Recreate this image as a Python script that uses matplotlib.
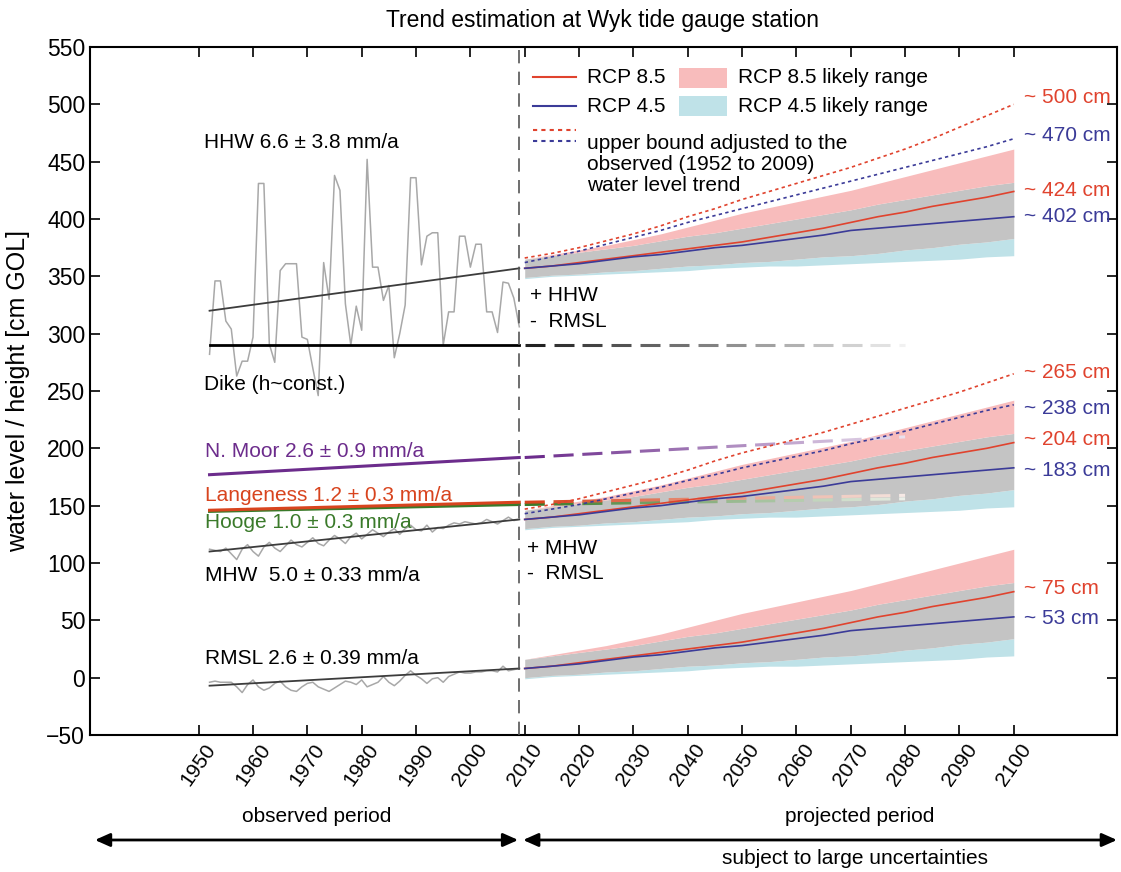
import matplotlib
matplotlib.use('Agg')
import matplotlib.pyplot as plt
import numpy as np
from matplotlib.lines import Line2D
from matplotlib.patches import Rectangle
from matplotlib.collections import LineCollection
from matplotlib.colors import to_rgb

plt.rcParams['font.family'] = ['Liberation Sans', 'DejaVu Sans']

# --- observed annual values 1952-2009 [cm GOL] ---
obs_years = np.arange(1952, 2010)
hhw = [282, 346, 346, 311, 304, 263, 276, 276, 297, 431,
       431, 291, 275, 355, 361, 361, 361, 297, 295, 270,
       246, 362, 330, 438, 425, 326, 290, 324, 303, 452,
       358, 358, 329, 342, 279, 300, 325, 436, 436, 360,
       385, 388, 388, 290, 319, 319, 385, 385, 358, 378,
       378, 319, 319, 301, 345, 344, 331, 306]
mhw = [112, 111, 110, 113, 108, 103, 112, 116, 110, 106,
       114, 118, 113, 110, 115, 120, 116, 114, 118, 122,
       117, 115, 120, 124, 121, 117, 123, 126, 121, 125,
       129, 126, 123, 127, 130, 125, 130, 133, 129, 128,
       133, 127, 131, 130, 133, 135, 134, 136, 135, 134,
       135, 138, 136, 134, 137, 140, 137, 138]
rmsl = [-4, -3, -4, -4, -4, -8, -13, -6, -2, -8,
        -11, -9, -5, -3, -8, -11, -12, -8, -5, -4,
        -8, -10, -12, -9, -6, -3, -4, -6, -2, -8,
        -6, -4, 1, -4, -7, -3, 2, 6, 2, -1,
        -5, -1, 0, -4, 1, 3, 5, 4, 4, 5,
        5, 6, 6, 5, 10, 6, 7, 8]

# linear trends (end points 1952 / 2009)
trend_years = [1952, 2009]
hhw_trend = [320, 357]
mhw_trend = [110, 138]
rmsl_trend = [-7, 8]
dike = [290, 290]
nmoor = [177, 192]
langeness = [146, 153]
hooge = [145, 151]

# continuation of dike / island trends into the future (fading dashes)
cont_years = [2010, 2080]
dike_cont = [290, 290]
nmoor_cont = [192, 210]
langeness_cont = [153, 159]
hooge_cont = [151, 156]

# --- projections: rise relative to 2009 [cm] ---
proj_years = np.arange(2010, 2101, 5)
rcp85_med = [0, 2, 5, 8, 11, 14, 17, 20, 23, 27, 31, 35, 40, 45, 49, 54, 58, 62, 67]
rcp45_med = [0, 2, 4, 7, 10, 12, 15, 18, 20, 23, 26, 29, 33, 35, 37, 39, 41, 43, 45]
rcp85_hi = [8, 12, 16, 20, 25, 30, 36, 42, 48, 53, 58, 63, 68, 74, 80, 86, 92, 98, 104]
rcp45_hi = [8, 11, 14, 17, 20, 24, 28, 31, 35, 39, 43, 47, 51, 56, 60, 64, 68, 72, 75]
rcp85_lo = [-8, -6, -5, -3, -2, 0, 2, 3, 5, 6, 8, 10, 11, 13, 16, 18, 21, 23, 26]
rcp45_lo = [-9, -7, -6, -5, -4, -3, -2, 0, 1, 2, 2, 3, 4, 5, 6, 7, 8, 10, 11]
# upper bounds adjusted to observed trends
hhw_up85 = [9, 13, 18, 24, 30, 37, 45, 52, 60, 67, 74, 81, 88, 96, 104, 113, 123, 133, 143]
hhw_up45 = [5, 10, 15, 21, 27, 33, 40, 46, 52, 58, 64, 70, 76, 82, 88, 94, 100, 106, 113]
mhw_up85 = [9, 13, 18, 24, 30, 36, 43, 51, 58, 64, 70, 76, 83, 90, 97, 104, 111, 119, 127]
mhw_up45 = [5, 9, 13, 18, 23, 28, 34, 39, 45, 50, 55, 60, 66, 71, 77, 83, 89, 95, 100]

group_base = {'HHW': 357, 'MHW': 138, 'RMSL': 8}

end_labels = ['~ 500 cm', '~ 470 cm', '~ 424 cm', '~ 402 cm', '~ 265 cm',
              '~ 238 cm', '~ 204 cm', '~ 183 cm', '~ 75 cm', '~ 53 cm']
end_label_y = [506, 473, 425, 402, 266, 235, 208, 181, 78, 52]
end_label_rcp = ['85', '45', '85', '45', '85', '45', '85', '45', '85', '45']

RED = '#e0432e'
BLUE = '#3b3b98'
PINK = '#f8bcbc'
LBLUE = '#bfe2e8'
GREY = '#c4c4c4'
PURPLE = '#6c2c8c'
ORANGE = '#d8441e'
GREEN = '#3a7a2a'

fig = plt.figure(figsize=(11.21, 8.72), dpi=100)
ax = fig.add_axes([90 / 1121, 1 - 735 / 872, 1027 / 1121, 688 / 872])


def fading_dash(x, y, color, lw, dash=3.7, gap=1.6, end_col='#f4f4f4'):
    c0 = np.array(to_rgb(color))
    c1 = np.array(to_rgb(end_col))
    segs, cols = [], []
    s = x[0]
    while s < x[1]:
        e = min(s + dash, x[1])
        f = (s - x[0]) / (x[1] - x[0])
        ys = np.interp([s, e], x, y)
        segs.append([(s, ys[0]), (e, ys[1])])
        cols.append(c0 * (1 - f) + c1 * f)
        s += dash + gap
    ax.add_collection(LineCollection(segs, colors=cols, linewidths=lw, zorder=3))


# projection bands and lines
for name, base in group_base.items():
    b = np.array
    ax.fill_between(proj_years, base + b(rcp45_lo), base + b(rcp85_lo), color=LBLUE, lw=0, zorder=1)
    ax.fill_between(proj_years, base + b(rcp85_lo), base + b(rcp45_hi), color=GREY, lw=0, zorder=1)
    ax.fill_between(proj_years, base + b(rcp45_hi), base + b(rcp85_hi), color=PINK, lw=0, zorder=1)
    ax.plot(proj_years, base + b(rcp85_med), color=RED, lw=1.2, zorder=4)
    ax.plot(proj_years, base + b(rcp45_med), color=BLUE, lw=1.2, zorder=4)

for base, up85, up45 in [(group_base['HHW'], hhw_up85, hhw_up45),
                         (group_base['MHW'], mhw_up85, mhw_up45)]:
    ax.plot(proj_years, base + np.array(up85), color=RED, lw=1.2, ls=(0, (2, 2)), zorder=4)
    ax.plot(proj_years, base + np.array(up45), color=BLUE, lw=1.2, ls=(0, (2, 2)), zorder=4)

# observed series
for series, trend in [(hhw, hhw_trend), (mhw, mhw_trend), (rmsl, rmsl_trend)]:
    ax.plot(obs_years, series, color='#a8a8a8', lw=1.1, zorder=2)
    ax.plot(trend_years, trend, color='#3c3c3c', lw=1.3, zorder=3)

ax.plot(trend_years, dike, color='black', lw=2, zorder=3)
ax.plot(trend_years, nmoor, color=PURPLE, lw=2.2, zorder=3)
ax.plot(trend_years, hooge, color=GREEN, lw=2.2, zorder=3)
ax.plot(trend_years, langeness, color=ORANGE, lw=2.2, zorder=3)

fading_dash(cont_years, dike_cont, '#222222', 2.2)
fading_dash(cont_years, nmoor_cont, PURPLE, 2.2, end_col='#ece4f0')
fading_dash(cont_years, hooge_cont, GREEN, 2.2, end_col='#eef2ec')
fading_dash(cont_years, langeness_cont, ORANGE, 2.2, end_col='#f6ece8')

ax.axvline(2009, color='#555555', lw=1.2, ls=(0, (8, 5)), zorder=5)

# text labels
fs = 15
ax.text(1950.9, 467, 'HHW 6.6 ± 3.8 mm/a', fontsize=fs, va='center')
ax.text(1950.9, 256, 'Dike (h~const.)', fontsize=fs, va='center')
ax.text(1951.2, 197, 'N. Moor 2.6 ± 0.9 mm/a', fontsize=fs, va='center', color=PURPLE)
ax.text(1951.2, 159, 'Langeness 1.2 ± 0.3 mm/a', fontsize=fs, va='center', color=ORANGE)
ax.text(1951.2, 135, 'Hooge 1.0 ± 0.3 mm/a', fontsize=fs, va='center', color=GREEN)
ax.text(1951.2, 89, 'MHW  5.0 ± 0.33 mm/a', fontsize=fs, va='center')
ax.text(1951.2, 17, 'RMSL 2.6 ± 0.39 mm/a', fontsize=fs, va='center')
ax.text(2011, 333, '+ HHW', fontsize=fs, va='center')
ax.text(2011, 311, '-  RMSL', fontsize=fs, va='center')
ax.text(2010.5, 113, '+ MHW', fontsize=fs, va='center')
ax.text(2010.5, 91, '-  RMSL', fontsize=fs, va='center')

for lab, yv, r in zip(end_labels, end_label_y, end_label_rcp):
    ax.text(2101.8, yv, lab, fontsize=fs, va='center', color=RED if r == '85' else BLUE)

# legend drawn by hand
tr = ax.transAxes
ax.add_line(Line2D([0.431, 0.473], [0.956, 0.956], color=RED, lw=1.5, transform=tr))
ax.add_line(Line2D([0.431, 0.473], [0.914, 0.914], color=BLUE, lw=1.5, transform=tr))
ax.add_line(Line2D([0.431, 0.473], [0.880, 0.880], color=RED, lw=1.5, ls=(0, (2, 2)), transform=tr))
ax.add_line(Line2D([0.431, 0.473], [0.864, 0.864], color=BLUE, lw=1.5, ls=(0, (2, 2)), transform=tr))
ax.add_patch(Rectangle((0.574, 0.940), 0.046, 0.030, color=PINK, transform=tr, lw=0))
ax.add_patch(Rectangle((0.574, 0.899), 0.046, 0.030, color=LBLUE, transform=tr, lw=0))
ax.text(0.484, 0.956, 'RCP 8.5', fontsize=fs, va='center', transform=tr)
ax.text(0.484, 0.914, 'RCP 4.5', fontsize=fs, va='center', transform=tr)
ax.text(0.631, 0.956, 'RCP 8.5 likely range', fontsize=fs, va='center', transform=tr)
ax.text(0.631, 0.914, 'RCP 4.5 likely range', fontsize=fs, va='center', transform=tr)
ax.text(0.484, 0.874, 'upper bound adjusted to the\nobserved (1952 to 2009)\nwater level trend',
        fontsize=fs, va='top', transform=tr, linespacing=1.15)

ax.set_xlim(1930, 2119)
ax.set_ylim(-50, 550)
ax.set_yticks(np.arange(-50, 551, 50))
ax.set_xticks(np.arange(1950, 2101, 10))
ax.tick_params(direction='in', length=7, width=1.2, top=True, right=True, labelsize=15)
ax.tick_params(axis='y', labelsize=16.5)
plt.setp(ax.get_xticklabels(), rotation=55, ha='center')
for sp in ax.spines.values():
    sp.set_linewidth(1.5)

ax.set_ylabel('water level / height [cm GOL]', fontsize=18)
ax.yaxis.set_label_coords(-0.058, 0.5)
fig.text(603 / 1121, 1 - 20 / 872, 'Trend estimation at Wyk tide gauge station',
         fontsize=16.5, ha='center', va='center')

# period arrows under the axis
xt = ax.get_xaxis_transform()
arrow = dict(arrowstyle='<|-|>,head_length=0.9,head_width=0.4', color='black', lw=2,
             shrinkA=0, shrinkB=0)
ax.annotate('', xy=(1930.9, -0.1526), xytext=(2008.8, -0.1526), xycoords=xt,
            arrowprops=arrow, annotation_clip=False)
ax.annotate('', xy=(2009.7, -0.1526), xytext=(2119, -0.1526), xycoords=xt,
            arrowprops=arrow, annotation_clip=False)
ax.text(1971.7, -0.119, 'observed period', fontsize=15, ha='center', va='center', transform=xt)
ax.text(2071.7, -0.119, 'projected period', fontsize=15, ha='center', va='center', transform=xt)
ax.text(2070.8, -0.179, 'subject to large uncertainties', fontsize=15, ha='center', va='center',
        transform=xt)

fig.savefig('out.png', dpi=100)
